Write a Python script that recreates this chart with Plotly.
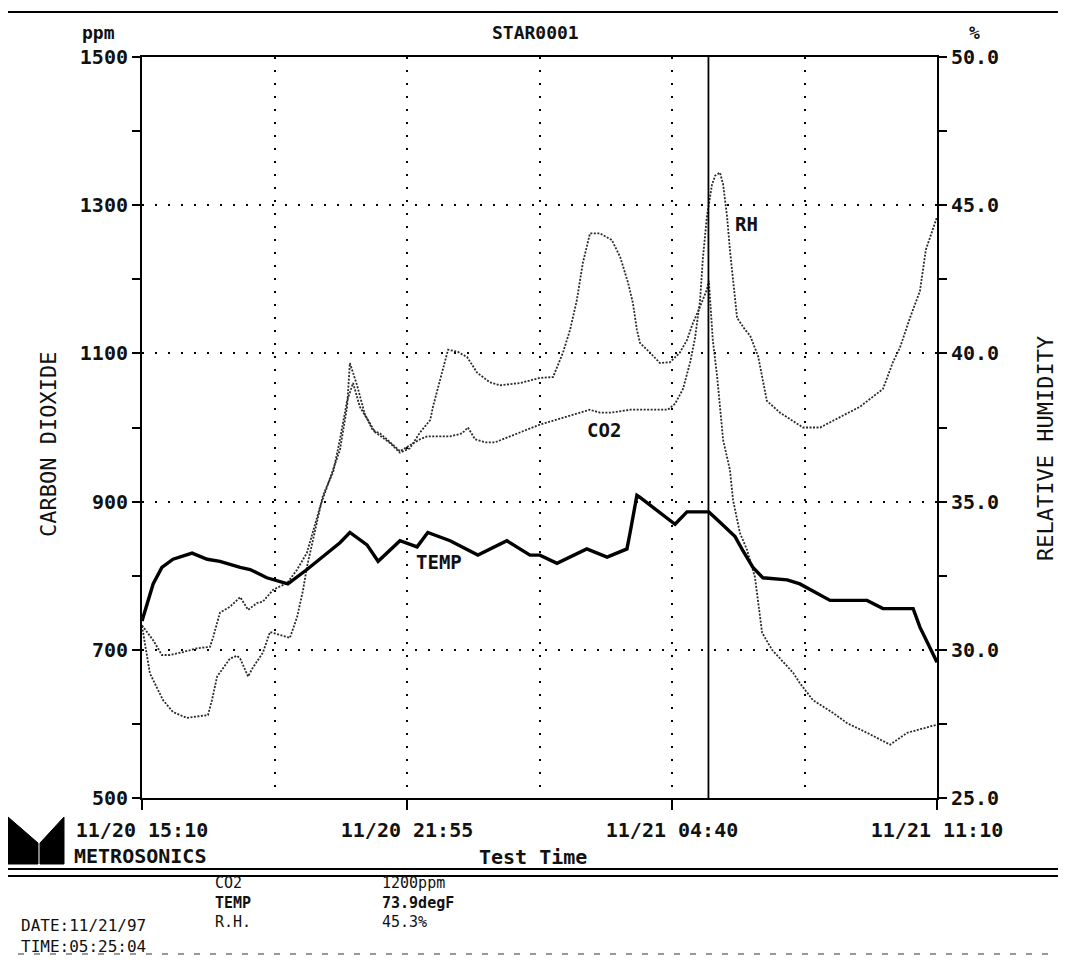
import plotly.graph_objects as go

# ---------------- data (hours since 11/20 15:10) ----------------
co2_hours = [0, 0.28, 0.50, 0.70, 1.03, 1.38, 1.71, 1.79, 1.96, 2.21, 2.47, 2.67, 2.89, 3.04, 3.30,
             3.65, 3.90, 4.15, 4.48, 4.65, 4.98, 5.16, 5.23, 5.41, 5.61, 5.86, 6.24, 6.49, 6.74, 6.99,
             7.12, 7.25, 7.32, 7.50, 7.62, 7.70, 7.95, 8.18, 8.43, 8.75, 9.01, 9.51, 10.01, 10.34,
             10.59, 10.77, 10.94, 11.09, 11.27, 11.52, 11.82, 12.03, 12.23, 12.35, 12.45, 12.53,
             12.78, 13.03, 13.28, 13.53, 13.71, 13.86, 14.04, 14.21, 14.26, 14.36, 14.47, 14.54,
             14.62, 14.79, 14.87, 15.04, 15.22, 15.42, 15.50, 15.60, 15.85, 16.38, 16.55, 16.88,
             17.38, 17.74, 18.24, 18.82, 19.25, 20.0]
co2_ppm = [733, 713, 693, 693, 697, 702, 704, 717, 750, 758, 771, 754, 763, 765, 781,
           790, 808, 831, 893, 920, 970, 1028, 1087, 1057, 1017, 994, 979, 966, 972, 993,
           1001, 1010, 1028, 1064, 1091, 1105, 1102, 1095, 1074, 1061, 1057, 1060, 1067, 1068,
           1101, 1132, 1172, 1222, 1262, 1262, 1253, 1230, 1195, 1168, 1132, 1114,
           1101, 1087, 1088, 1101, 1118, 1141, 1163, 1186, 1198, 1118, 1068, 1024,
           983, 943, 902, 858, 835, 798, 767, 723, 700, 669, 655, 632,
           615, 601, 588, 572, 588, 599]

rh_hours = [0, 0.20, 0.53, 0.78, 1.13, 1.66, 1.76, 1.89, 2.21, 2.39, 2.47, 2.67, 2.79, 3.04, 3.22,
            3.47, 3.72, 3.90, 4.05, 4.15, 4.30, 4.55, 4.81, 4.98, 5.16, 5.31, 5.48, 5.66, 5.81,
            5.99, 6.16, 6.49, 6.74, 6.99, 7.17, 7.75, 8.05, 8.20, 8.38, 8.63, 8.88, 9.26, 9.64,
            10.01, 10.52, 11.02, 11.27, 11.52, 11.77, 12.28, 12.91, 13.23, 13.41, 13.61, 13.79,
            13.91, 14.04, 14.11, 14.21, 14.34, 14.42, 14.54, 14.62, 14.72, 14.79, 14.87, 14.97,
            15.17, 15.30, 15.50, 15.60, 15.72, 16.05, 16.38, 16.63, 17.06, 17.64, 18.06, 18.64,
            18.89, 19.07, 19.32, 19.57, 19.72, 20.0]
rh_pct = [30.8, 29.2, 28.3, 27.9, 27.7, 27.8, 28.3, 29.1, 29.7, 29.8, 29.7, 29.1, 29.4, 29.9, 30.6,
          30.5, 30.4, 31.1, 32.0, 32.8, 33.7, 35.2, 36.0, 37.1, 38.4, 39.0, 38.2, 37.8, 37.4,
          37.3, 37.1, 36.7, 36.9, 37.1, 37.2, 37.2, 37.3, 37.5, 37.1, 37.0, 37.0, 37.2, 37.4,
          37.6, 37.8, 38.0, 38.1, 38.0, 38.0, 38.1, 38.1, 38.1, 38.3, 38.8, 39.7,
          40.5, 41.8, 43.2, 44.6, 45.7, 46.0, 46.1, 45.7, 44.6, 43.5, 42.4, 41.2,
          40.8, 40.6, 39.9, 39.2, 38.4, 38.0, 37.7, 37.5, 37.5, 37.9, 38.2, 38.8,
          39.7, 40.2, 41.2, 42.1, 43.5, 44.6]

temp_hours = [0, 0.13, 0.28, 0.50, 0.78, 1.26, 1.64, 1.96, 2.47, 2.72, 3.14, 3.67, 4.15, 4.98,
              5.23, 5.66, 5.94, 6.49, 6.92, 7.19, 7.75, 8.45, 9.18, 9.76, 10.01, 10.44, 11.19,
              11.70, 12.20, 12.28, 12.45, 12.53, 12.86, 13.41, 13.71, 14.21, 14.26, 14.54, 14.92,
              15.12, 15.37, 15.62, 16.23, 16.55, 17.31, 18.24, 18.64, 19.40, 19.57, 20.0]
temp_degf = [68.6, 69.5, 70.4, 71.2, 71.6, 71.9, 71.6, 71.5, 71.2, 71.1, 70.7, 70.4, 71.1, 72.4,
             72.9, 72.3, 71.5, 72.5, 72.2, 72.9, 72.5, 71.8, 72.5, 71.8, 71.8, 71.4, 72.1,
             71.7, 72.1, 72.9, 74.7, 74.6, 74.1, 73.3, 73.9, 73.9, 73.9, 73.4, 72.7,
             72.0, 71.2, 70.7, 70.6, 70.4, 69.6, 69.6, 69.2, 69.2, 68.3, 66.6]

x_tick_hours = [0, 20 / 3, 40 / 3, 20]
x_tick_text = ["11/20 15:10", "11/20 21:55", "11/21 04:40", "11/21 11:10"]
cursor_hour = 14.25

readout_names = ["CO2", "<b>TEMP</b>", "R.H."]
readout_values = ["1200ppm", "<b>73.9degF</b>", "45.3%"]
stamp_lines = ["DATE:11/21/97", "TIME:05:25:04"]

# ---------------- layout helpers ----------------
# page has an 8px body margin; reference pixel coordinates are page coordinates
OFF = 8
W, H = 1066 - 2 * OFF, 964 - 2 * OFF
L, R, T, B = 142, 937, 57, 798          # plot area in page pixels
FONT = "DejaVu Sans Mono"


def px(x):
    return (x - L) / (R - L)


def py(y):
    return (B - y) / (B - T)


fig = go.Figure()
fig.add_trace(go.Scatter(x=co2_hours, y=co2_ppm, mode="lines", name="CO2",
                         line=dict(color="#2a2a2a", width=1.8, dash="2px,1.5px"), yaxis="y"))
fig.add_trace(go.Scatter(x=rh_hours, y=rh_pct, mode="lines", name="RH",
                         line=dict(color="#2a2a2a", width=1.8, dash="2px,1.5px"), yaxis="y2"))
fig.add_trace(go.Scatter(x=temp_hours, y=temp_degf, mode="lines", name="TEMP",
                         line=dict(color="black", width=3.4), yaxis="y3"))

grid = dict(gridcolor="black", gridwidth=2.2, griddash="2px,11px")
tickfont = dict(family=FONT, size=20, color="#111", weight="bold")

fig.update_layout(
    width=W, height=H,
    margin=dict(l=L - OFF, r=W - (R - OFF), t=T - OFF, b=H - (B - OFF), pad=0),
    paper_bgcolor="white", plot_bgcolor="white",
    showlegend=False,
    font=dict(family=FONT, color="#111"),
    xaxis=dict(range=[0, 20], tickvals=x_tick_hours, ticktext=x_tick_text,
               showgrid=True, **grid,
               minor=dict(dtick=20 / 6, tick0=0, showgrid=True, **grid, ticks=""),
               ticks="outside", ticklen=10, tickwidth=2, tickcolor="black",
               ticklabelstandoff=3, tickfont=tickfont,
               showline=True, linecolor="black", linewidth=2, mirror=True, zeroline=False),
    yaxis=dict(range=[500, 1500], tick0=500, dtick=200, showgrid=True, **grid,
               ticks="outside", ticklen=8, tickwidth=2, tickcolor="black",
               minor=dict(dtick=100, tick0=500, ticks="outside", ticklen=8, tickwidth=2,
                          tickcolor="black", showgrid=False),
               tickfont=tickfont, showline=True, linecolor="black", linewidth=2, zeroline=False),
    yaxis2=dict(range=[25, 50], dtick=5, tick0=25, tickformat=".1f", overlaying="y", side="right",
                showgrid=False, ticks="outside", ticklen=8, tickwidth=2, tickcolor="black",
                minor=dict(dtick=2.5, tick0=25, ticks="outside", ticklen=8, tickwidth=2,
                           tickcolor="black", showgrid=False),
                tickfont=tickfont, showline=True, linecolor="black", linewidth=2, zeroline=False),
    yaxis3=dict(range=[60, 96], overlaying="y", visible=False),
)

# cursor line
fig.add_shape(type="line", xref="x", yref="paper", x0=cursor_hour, x1=cursor_hour, y0=0, y1=1,
              line=dict(color="black", width=1.8))

# frames (page pixel coordinates)
frame = [
    (4, 12, 1070, 12, 2), (4, 12, 4, 869, 2), (4, 869, 1070, 869, 2), (2, 876, 1070, 876, 2),
    (2, 876, 2, 962, 2),
]
for x0, y0, x1, y1, w in frame:
    fig.add_shape(type="line", xref="paper", yref="paper", x0=px(x0), y0=py(y0), x1=px(x1), y1=py(y1),
                  line=dict(color="black", width=w))
fig.add_shape(type="line", xref="paper", yref="paper", x0=px(2), y0=py(954), x1=px(1070), y1=py(954),
              line=dict(color="#777", width=1.5, dash="6px,10px"))


def poly(pts):
    return "M " + " L ".join(f"{px(a):.5f},{py(b):.5f}" for a, b in pts) + " Z"


# logo
fig.add_shape(type="path", xref="paper", yref="paper",
              path=poly([(8, 817), (38, 843), (38, 864), (8, 864)]),
              fillcolor="black", line=dict(color="black", width=1))
fig.add_shape(type="path", xref="paper", yref="paper",
              path=poly([(40, 843), (64, 817), (64, 864), (40, 864)]),
              fillcolor="black", line=dict(color="black", width=1))


def ann(text, x, y, size=18, bold=True, anchor="center", angle=0):
    fig.add_annotation(text=text, xref="paper", yref="paper", x=px(x), y=py(y),
                       xanchor=anchor, yanchor="middle", showarrow=False, textangle=angle,
                       align="left",
                       font=dict(family=FONT, size=size, color="#111",
                                 weight="bold" if bold else "normal"))


ann("ppm", 98, 32, 18)
ann("STAR0001", 535, 32, 18)
ann("%", 974, 32, 18)
ann("CARBON DIOXIDE", 48, 445, 22, bold=False, angle=-90)
ann("RELATIVE HUMIDITY", 1045, 449, 22, bold=False, angle=-90)
ann("METROSONICS", 72, 856, 20, anchor="left")
ann("Test Time", 533, 857, 20)
ann("RH", 746, 224, 19)
ann("CO2", 604, 430, 19)
ann("TEMP", 439, 562, 19)

ann("<br>".join(readout_names), 213, 903, 15, bold=False, anchor="left")
ann("<br>".join(readout_values), 380, 903, 15, bold=False, anchor="left")
ann("<br>".join(stamp_lines), 19, 936, 16, bold=False, anchor="left")

fig.write_html("out.html")
